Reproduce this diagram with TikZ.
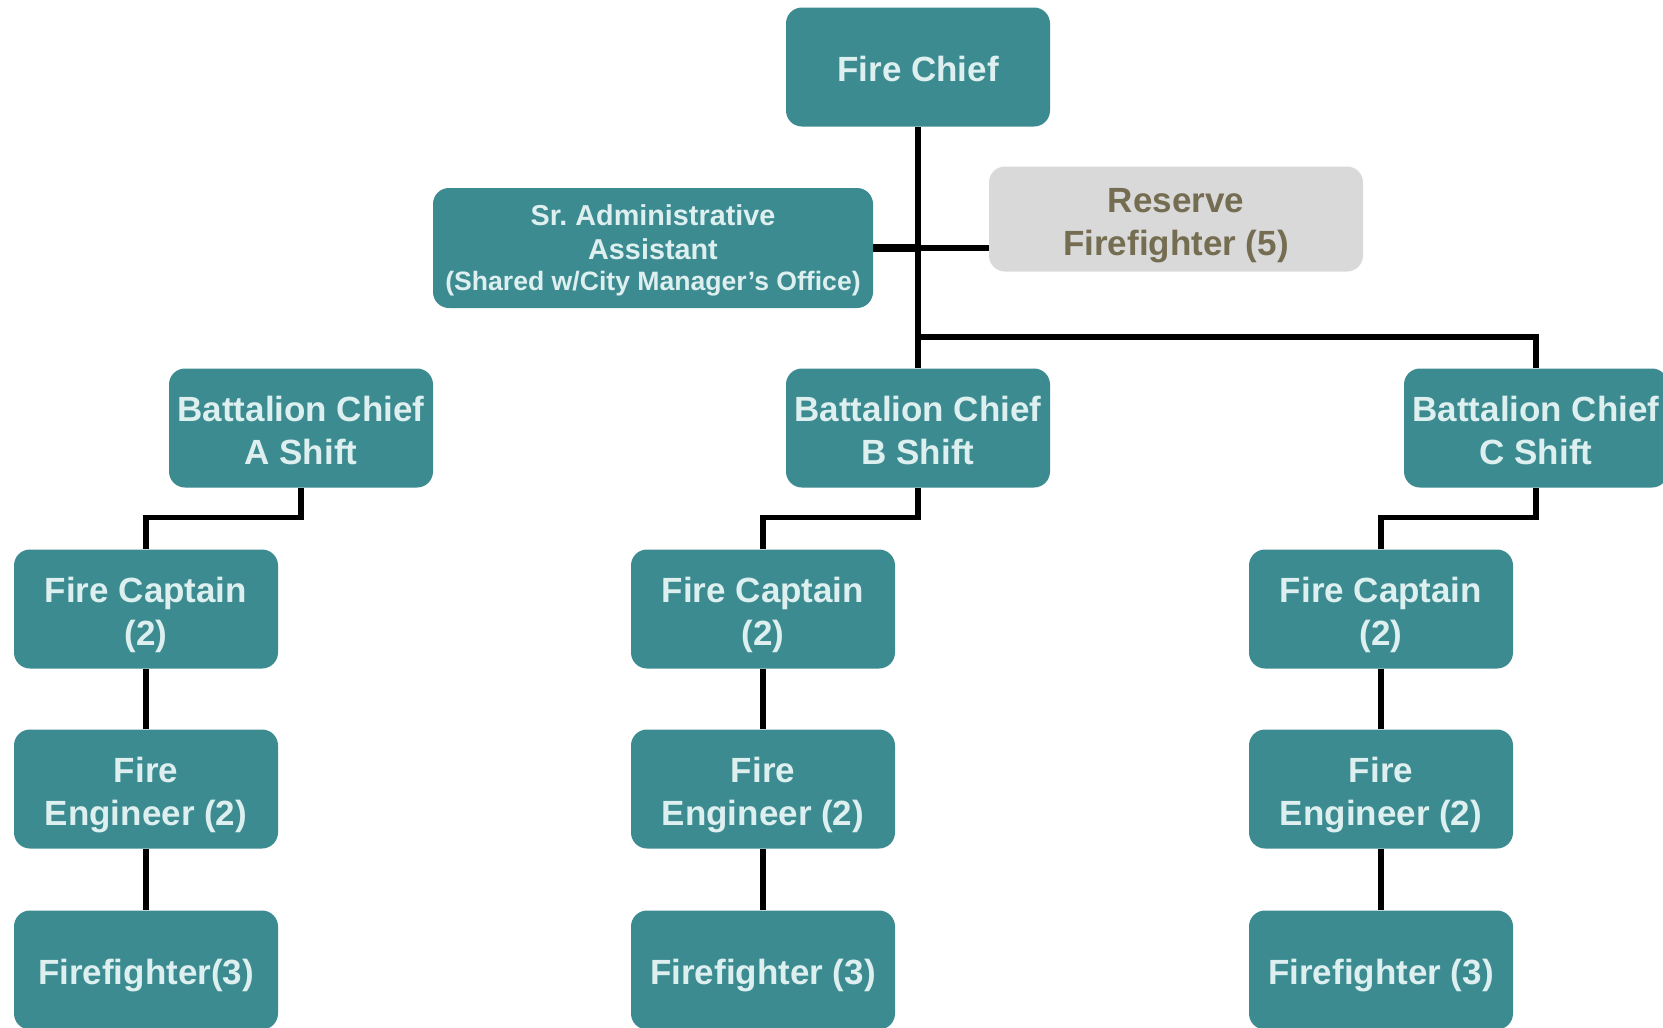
\documentclass[tikz,border=0pt]{standalone}
\usepackage{fontspec}
\setmainfont{Liberation Sans}
\usetikzlibrary{backgrounds}
\definecolor{postfill}{RGB}{60,139,145}
\definecolor{posttext}{RGB}{221,239,239}
\definecolor{resfill}{RGB}{217,217,217}
\definecolor{restext}{RGB}{117,109,82}
\begin{document}
\begin{tikzpicture}[x=1pt,y=-1pt,font=\bfseries\frenchspacing\fontsize{35}{42.5}\selectfont,
post/.style={fill=postfill, text=posttext, rounded corners=16pt, minimum width=264pt,
    minimum height=119pt, align=center, inner sep=0pt, text height=28pt, text depth=0pt},
twolines/.style={text height=72.5pt},
reserve/.style={post, twolines, fill=resfill, text=restext, minimum width=374pt, minimum height=105pt},
link/.style={line width=5.4pt}]
\useasboundingbox (0,0) rectangle (1663,1028);
\begin{scope}[on background layer]
\fill[white] (0,0) rectangle (1663,1028);
\end{scope}
\node[post] (chief) at (918,67) {Fire Chief};
\node[post, minimum width=440pt, minimum height=120pt, text height=84.3pt,
    font=\bfseries\frenchspacing\fontsize{28.8}{34.3}\selectfont] (admin) at (653,248)
    {Sr. Administrative\\Assistant\\[-4pt]{\fontsize{26.6}{30}\selectfont(Shared w/City Manager’s Office)}};
\node[reserve] (reserve) at (1176,219) {Reserve\\Firefighter (5)};
\foreach \s/\bx/\cx/\ff in {A/301/146/Firefighter(3), B/918/763/Firefighter (3),
    C/1536/1381/Firefighter (3)}{
  \node[post, twolines] (bc\s) at (\bx,428) {Battalion Chief\\\s\ Shift};
  \node[post, twolines] (cap\s) at (\cx,609) {Fire Captain\\(2)};
  \node[post, twolines] (eng\s) at (\cx,789) {Fire\\Engineer (2)};
  \node[post] (ff\s) at (\cx,970) {\ff};
  \begin{scope}[on background layer]
  \draw[link] (bc\s.south) -- ++(0,30) -| (cap\s.north);
  \draw[link] (cap\s.south) -- (eng\s.north);
  \draw[link] (eng\s.south) -- (ff\s.north);
  \end{scope}
}
\coordinate (split) at (918,337);
\begin{scope}[on background layer]
\draw[link] (chief.south) -- (bcB.north);
\draw[link] (split) -| (bcC.north);
\draw[link, line width=7.7pt] (admin.east) -- (admin.east -| chief.south);
\draw[link] (admin.east -| chief.south) -- (admin.east -| reserve.west);
\end{scope}
\end{tikzpicture}
\end{document}
